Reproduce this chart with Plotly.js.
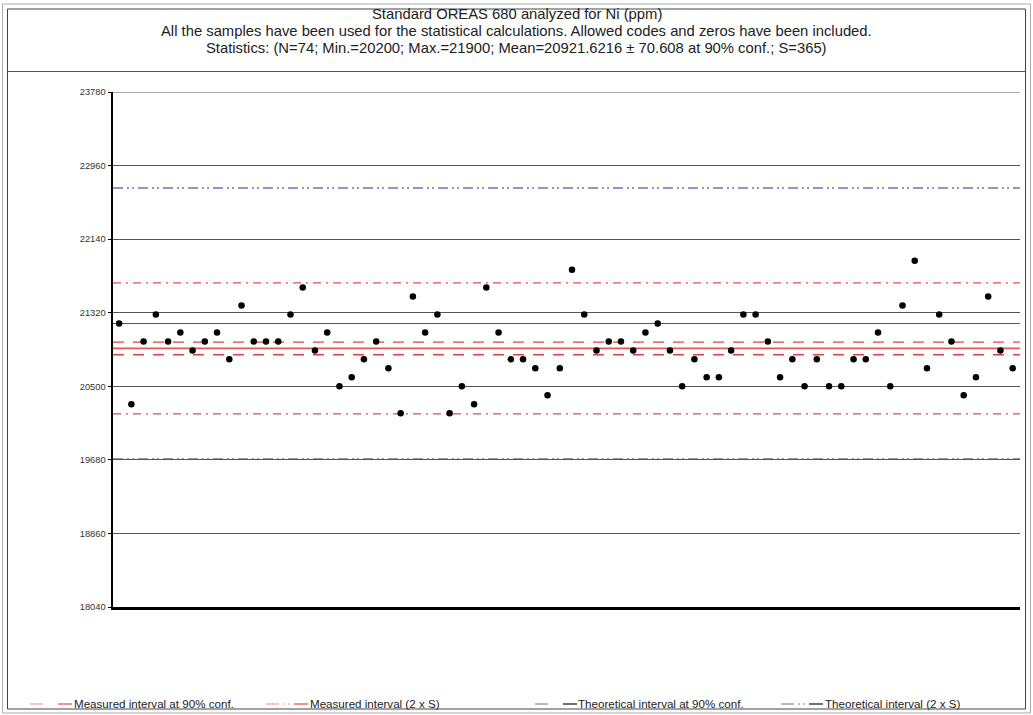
<!DOCTYPE html>
<html>
<head>
<meta charset="utf-8">
<script src="https://cdn.plot.ly/plotly-3.0.1.min.js"></script>
<style>html,body{margin:0;padding:0;background:#fff;}#chart{width:1033px;height:715px;}</style>
</head>
<body>
<div id="chart"></div>
<script>
// ---- data ----
const sampleIndex = Array.from({length: 74}, (_, i) => i + 1);
const niValues = [
  21200, 20300, 21000, 21300, 21000, 21100, 20900, 21000, 21100, 20800,
  21400, 21000, 21000, 21000, 21300, 21600, 20900, 21100, 20500, 20600,
  20800, 21000, 20700, 20200, 21500, 21100, 21300, 20200, 20500, 20300,
  21600, 21100, 20800, 20800, 20700, 20400, 20700, 21800, 21300, 20900,
  21000, 21000, 20900, 21100, 21200, 20900, 20500, 20800, 20600, 20600,
  20900, 21300, 21300, 21000, 20600, 20800, 20500, 20800, 20500, 20500,
  20800, 20800, 21100, 20500, 21400, 21900, 20700, 21300, 21000, 20400,
  20600, 21500, 20900, 20700
];
const yTickVals = [18040, 18860, 19680, 20500, 21320, 22140, 22960, 23780];
const measuredMean = 20921.6216;
const measuredConf90 = 70.608;
const measuredS = 365;
const theoreticalValue = 21200;
const theoreticalTwoS = 1510;
const legendLabels = ["Measured interval at 90% conf.", "Measured interval (2 x S)",
                      "Theoretical interval at 90% conf.", "Theoretical interval (2 x S)"];
const titleLines = [
  "Standard OREAS 680 analyzed for Ni (ppm)",
  "All the samples have been used for the statistical calculations. Allowed codes and zeros have been included.",
  "Statistics: (N=74; Min.=20200; Max.=21900; Mean=20921.6216 ± 70.608 at 90% conf.; S=365)"
];

// ---- geometry helpers (pixel -> paper) ----
const ML = 113, MR = 13, MT = 92, MB = 108, W = 1033, H = 715;
const PW = W - ML - MR, PH = H - MT - MB;
const px = x => (x - ML) / PW;
const py = y => (H - MB - y) / PH;

const FONT = "Liberation Sans, Arial, sans-serif";

function hline(y, color, dash, width) {
  return {type: 'line', xref: 'paper', yref: 'y', x0: 0, x1: 1, y0: y, y1: y,
          layer: 'below', line: {color: color, width: width || 1, dash: dash || 'solid'}};
}
function pline(x0, y0, x1, y1, color, width, dash) {
  return {type: 'line', xref: 'paper', yref: 'paper', x0: px(x0), x1: px(x1), y0: py(y0), y1: py(y1),
          line: {color: color, width: width || 1, dash: dash || 'solid'}};
}

const shapes = [
  // frame
  {type: 'rect', xref: 'paper', yref: 'paper', x0: px(2.5), x1: px(1030.5), y0: py(4), y1: py(713), line: {color: '#aaa', width: 1}},
  {type: 'rect', xref: 'paper', yref: 'paper', x0: px(7.5), x1: px(1025.5), y0: py(9), y1: py(709), line: {color: '#444', width: 1}},
  pline(7.5, 71.5, 1025.5, 71.5, '#555', 1),
  // top grid line (Plotly omits grid at the range edge)
  hline(yTickVals[yTickVals.length - 1], '#555', 'solid', 1),
  // statistical lines
  hline(theoreticalValue + theoreticalTwoS, '#2828a0', '10px,4px,2px,3px,2px,4px', 1.2),
  hline(theoreticalValue - theoreticalTwoS, '#777', '10px,4px,2px,3px,2px,4px', 1.2),
  hline(theoreticalValue, '#4646e6', 'solid', 1.2),
  hline(measuredMean + 2 * measuredS, '#e05050', '8px,5px,2px,5px', 1.2),
  hline(measuredMean - 2 * measuredS, '#e05050', '8px,5px,2px,5px', 1.2),
  hline(measuredMean + measuredConf90, '#e04040', '11px,9px', 1.4),
  hline(measuredMean - measuredConf90, '#e04040', '11px,9px', 1.4),
  hline(measuredMean, '#e05a5a', 'solid', 1.8)
];

// legend samples
const legendItems = [
  {x: 30, tx: 74, color: '#e04848', light: '#f0a0a0', dots: false},
  {x: 266, tx: 310, color: '#e04848', light: '#f0a0a0', dots: true},
  {x: 535, tx: 578, color: '#111', light: '#888', dots: false},
  {x: 781, tx: 825, color: '#111', light: '#888', dots: true}
];
const legendY = 704;
const annotations = [];
legendItems.forEach((it, i) => {
  shapes.push(pline(it.x, legendY, it.x + 13, legendY, it.light, 1.2));
  shapes.push(pline(it.x + 28, legendY, it.x + 42, legendY, it.color, 1.2));
  if (it.dots) {
    shapes.push(pline(it.x + 17, legendY, it.x + 19, legendY, it.light, 1));
    shapes.push(pline(it.x + 22, legendY, it.x + 24, legendY, it.light, 1));
  }
  annotations.push({xref: 'paper', yref: 'paper', x: px(it.tx - 2), y: py(legendY - 1), xanchor: 'left', yanchor: 'middle',
                    text: legendLabels[i], showarrow: false, font: {family: FONT, size: 11.6, color: '#222'}});
});
// title lines
const titleY = [14, 31, 48];
titleLines.forEach((t, i) => {
  annotations.push({xref: 'paper', yref: 'paper', x: px(516.5), y: py(titleY[i]), xanchor: 'center', yanchor: 'middle',
                    text: t, showarrow: false, font: {family: FONT, size: 14.8, color: '#222'}});
});

const data = [{
  type: 'scatter', mode: 'markers', x: sampleIndex, y: niValues,
  marker: {color: '#000', size: 6.5}, showlegend: false, hoverinfo: 'x+y'
}];

const layout = {
  width: W, height: H,
  margin: {l: ML, r: MR, t: MT, b: MB, pad: 0},
  paper_bgcolor: '#fff', plot_bgcolor: '#fff',
  showlegend: false,
  xaxis: {
    range: [0.5, 74.6], showgrid: false, zeroline: false, showticklabels: false, ticks: '',
    showline: true, linecolor: '#000', linewidth: 2.5
  },
  yaxis: {
    range: [yTickVals[0], yTickVals[yTickVals.length - 1]],
    tickmode: 'array', tickvals: yTickVals, ticktext: yTickVals.map(String),
    showgrid: true, gridcolor: '#555', gridwidth: 1, zeroline: false,
    showline: true, linecolor: '#000', linewidth: 2.5,
    ticks: 'outside', ticklen: 3, tickcolor: '#000', tickwidth: 1,
    tickfont: {family: FONT, size: 9.3, color: '#333'}
  },
  shapes: shapes,
  annotations: annotations
};

Plotly.newPlot('chart', data, layout, {displayModeBar: false, staticPlot: true});
</script>
</body>
</html>
